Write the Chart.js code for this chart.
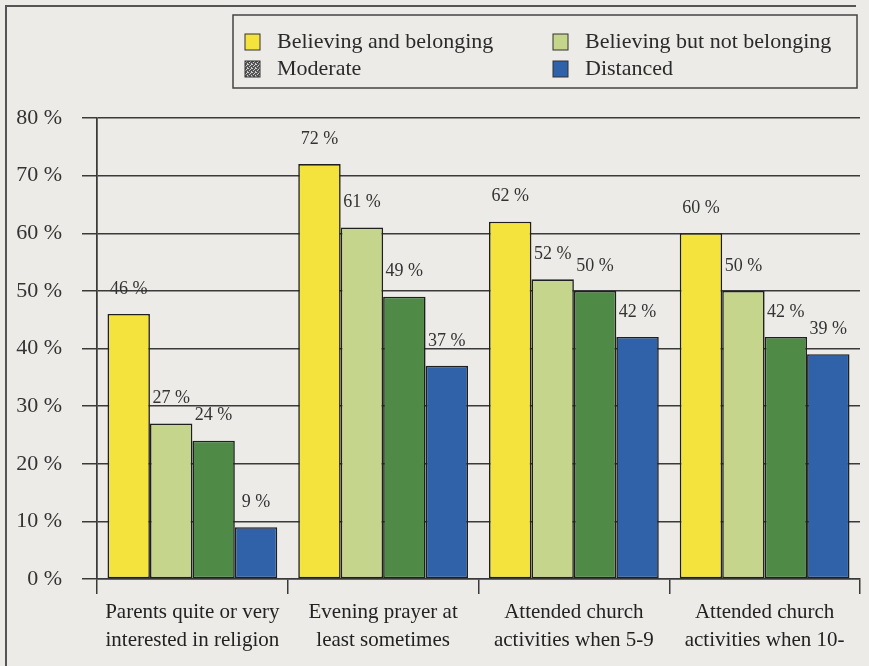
<!DOCTYPE html>
<html lang="en-US">

<head>
    <meta charset="UTF-8">
    <title>Believing and belonging</title>
    <script src="https://cdn.jsdelivr.net/npm/chart.js"></script>
    <style>
        html, body { margin: 0; padding: 0; background: #ecebe8; }
        #wrap { width: 869px; height: 666px; }
    </style>
</head>

<body>
    <div id="wrap">
        <canvas id="religionChart" width="869" height="666"></canvas>
    </div>

    <script>
        // categories (two lines each, as in the print)
        const categories = [
            ["Parents quite or very", "interested in religion"],
            ["Evening prayer at", "least sometimes"],
            ["Attended church", "activities when 5-9"],
            ["Attended church", "activities when 10-"]
        ];

        // series values, percent
        const believingBelonging = [46, 72, 62, 60];
        const believingNotBelonging = [27, 61, 52, 50];
        const moderate = [24, 49, 50, 42];
        const distanced = [9, 37, 42, 39];

        const yTicks = [0, 10, 20, 30, 40, 50, 60, 70, 80];

        const serif = "'Liberation Serif', 'DejaVu Serif', serif";
        const lineColor = "#3a3a3a";

        // speckled swatch for "Moderate" in the legend
        function speckle() {
            const c = document.createElement("canvas");
            c.width = 4; c.height = 4;
            const g = c.getContext("2d");
            g.fillStyle = "#555";
            g.fillRect(0, 0, 4, 4);
            g.fillStyle = "#cfcfcf";
            [[0, 0], [2, 1], [1, 2], [3, 3], [3, 0]].forEach(p => g.fillRect(p[0], p[1], 1, 1));
            return g.createPattern(c, "repeat");
        }

        // page background and the outer frame of the figure
        const framePlugin = {
            id: "frame",
            beforeDraw(chart) {
                const ctx = chart.ctx;
                ctx.save();
                ctx.fillStyle = "#ecebe8";
                ctx.fillRect(0, 0, chart.width, chart.height);
                ctx.strokeStyle = "#555";
                ctx.lineWidth = 2;
                ctx.beginPath();
                ctx.moveTo(6, chart.height);
                ctx.lineTo(6, 6);
                ctx.lineTo(856, 6);
                ctx.stroke();
                ctx.restore();
            }
        };

        // two-column boxed legend
        const legendPlugin = {
            id: "boxLegend",
            afterDraw(chart) {
                const ctx = chart.ctx;
                ctx.save();
                ctx.strokeStyle = "#444";
                ctx.lineWidth = 1.5;
                ctx.strokeRect(233, 15, 624, 73);
                ctx.font = "22px " + serif;
                ctx.textBaseline = "middle";
                const cols = [245, 553];
                const rows = [42, 69];
                chart.data.datasets.forEach((ds, i) => {
                    const x = cols[i % 2];
                    const y = rows[Math.floor(i / 2)];
                    ctx.fillStyle = ds.legendFill || ds.backgroundColor;
                    ctx.fillRect(x, y - 8, 15, 16);
                    ctx.strokeStyle = "#333";
                    ctx.lineWidth = 1;
                    ctx.strokeRect(x, y - 8, 15, 16);
                    ctx.fillStyle = "#2a2a2a";
                    ctx.fillText(ds.label, x + 32, y);
                });
                ctx.restore();
            }
        };

        // value labels above each bar
        const valueLabels = {
            id: "valueLabels",
            afterDatasetsDraw(chart) {
                const ctx = chart.ctx;
                ctx.save();
                ctx.font = "18px " + serif;
                ctx.fillStyle = "#333";
                ctx.textAlign = "center";
                ctx.textBaseline = "middle";
                chart.data.datasets.forEach((ds, i) => {
                    chart.getDatasetMeta(i).data.forEach((bar, j) => {
                        ctx.fillText(ds.data[j] + " %", bar.x, bar.y - 25);
                    });
                });
                ctx.restore();
            }
        };

        const religionChart = document.getElementById("religionChart");

        new Chart(religionChart, {
            type: "bar",
            data: {
                labels: categories,
                datasets: [
                    { label: "Believing and belonging", data: believingBelonging, backgroundColor: "#f3e33c" },
                    { label: "Believing but not belonging", data: believingNotBelonging, backgroundColor: "#c5d68c" },
                    { label: "Moderate", data: moderate, backgroundColor: "#4f8a47", legendFill: speckle() },
                    { label: "Distanced", data: distanced, backgroundColor: "#2f62a8" }
                ]
            },
            options: {
                responsive: false,
                animation: false,
                layout: { padding: { top: 118, left: 10, right: 9, bottom: 0 } },
                datasets: {
                    bar: {
                        borderColor: "#1f1f1f",
                        borderWidth: 1.6,
                        borderSkipped: false,
                        categoryPercentage: 0.89,
                        barPercentage: 1
                    }
                },
                plugins: {
                    legend: { display: false },
                    tooltip: { enabled: false }
                },
                scales: {
                    y: {
                        min: 0,
                        max: 80,
                        afterFit(scale) { scale.width = 87; },
                        afterBuildTicks(scale) { scale.ticks = yTicks.map(v => ({ value: v })); },
                        ticks: {
                            font: { family: serif, size: 22 },
                            color: "#333",
                            padding: 20,
                            callback: v => v + " %"
                        },
                        grid: {
                            color: lineColor,
                            lineWidth: 1.5,
                            tickLength: 15
                        },
                        border: { color: lineColor, width: 1.5 }
                    },
                    x: {
                        afterFit(scale) { scale.height = 87; },
                        ticks: {
                            font: { family: serif, size: 21, lineHeight: 1.33 },
                            color: "#222",
                            padding: 5
                        },
                        grid: {
                            color: c => (c.index === 0 || c.index === categories.length) ? lineColor : "rgba(0,0,0,0)",
                            tickColor: lineColor,
                            lineWidth: 1.5,
                            tickLength: 15
                        },
                        border: { color: lineColor, width: 1.5 }
                    }
                }
            },
            plugins: [framePlugin, legendPlugin, valueLabels]
        });
    </script>
</body>
</html>
